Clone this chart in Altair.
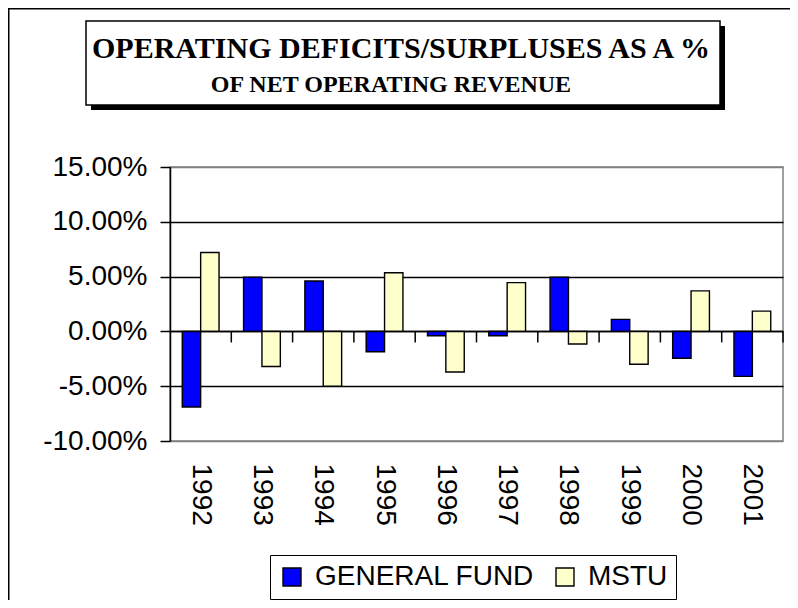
import altair as alt
import pandas as pd

years = ["1992", "1993", "1994", "1995", "1996", "1997", "1998", "1999", "2000", "2001"]
general_fund = [-0.069, 0.0495, 0.046, -0.0185, -0.004, -0.004, 0.0495, 0.011, -0.0245, -0.041]
mstu = [0.072, -0.032, -0.050, 0.0535, -0.037, 0.0445, -0.0115, -0.030, 0.037, 0.0185]
series = ["GENERAL FUND", "MSTU"]
colors = ["#0000FF", "#FFFFCC"]
y_ticks = [-0.10, -0.05, 0.0, 0.05, 0.10, 0.15]
title_line1 = "OPERATING DEFICITS/SURPLUSES AS A %"
title_line2 = "OF NET OPERATING REVENUE"

rows = []
for i, yr in enumerate(years):
    rows.append({"year": yr, "series": series[0], "value": general_fund[i]})
    rows.append({"year": yr, "series": series[1], "value": mstu[i]})
df = pd.DataFrame(rows)
one = alt.Data(values=[{"k": 1}])
yr_df = pd.DataFrame({"year": years})

W, H = 613, 274
SANS = "Liberation Sans"
SERIF = "Liberation Serif"

yscale = alt.Scale(domain=[-0.10, 0.15], nice=False, zero=False)

bars = alt.Chart(df).mark_bar(stroke="black", strokeWidth=1.4).encode(
    x=alt.X("year:N", sort=years,
            scale=alt.Scale(paddingInner=0.4, paddingOuter=0.2),
            axis=alt.Axis(title=None, labelAngle=90, labelFontSize=28, labelFont=SANS,
                          labelColor="black", domain=False, ticks=False, labelPadding=22,
                          grid=False)),
    xOffset=alt.XOffset("series:N", sort=series,
                        scale=alt.Scale(paddingInner=0, paddingOuter=0)),
    y=alt.Y("value:Q", scale=yscale,
            axis=alt.Axis(title=None, values=y_ticks,
                          labelExpr="replace(format(datum.value, '.2%'), '\u2212', '-')",
                          labelFontSize=28,
                          labelFont=SANS, labelColor="black", domainColor="black",
                          domainWidth=1.5, tickColor="black", tickWidth=1.5, tickSize=10,
                          labelPadding=13,
                          grid=True, gridWidth=1.5,
                          gridColor={"condition": {"test": "datum.value > 0.14 || datum.value < -0.09",
                                                   "value": "#808080"},
                                     "value": "black"})),
    color=alt.Color("series:N", sort=series,
                    scale=alt.Scale(domain=series, range=colors),
                    legend=alt.Legend(title=None, orient="none", legendX=100, legendY=388,
                                      direction="horizontal", strokeColor="black",
                                      fillColor="white", padding=8, symbolType="square",
                                      symbolSize=324, symbolStrokeColor="black",
                                      symbolStrokeWidth=1.4, labelFontSize=28,
                                      labelFont=SANS, labelColor="black", labelLimit=0,
                                      columnPadding=16, labelOffset=9)),
)

zero_line = alt.Chart(one).mark_rule(color="black", strokeWidth=1.5).encode(
    y=alt.datum(0, scale=yscale)
)

zero_ticks = alt.Chart(yr_df).mark_rule(color="black", strokeWidth=1.5, y2Offset=11).encode(
    x=alt.X("year:N", sort=years, bandPosition=1,
            scale=alt.Scale(paddingInner=0, paddingOuter=0), axis=None),
    y=alt.datum(0),
    y2=alt.datum(0),
)

shadow = alt.Chart(one).mark_rect(color="black").encode(
    x=alt.value(-79), x2=alt.value(555), y=alt.value(-141), y2=alt.value(-57)
)
tbox = alt.Chart(one).mark_rect(fill="white", stroke="black", strokeWidth=1.5).encode(
    x=alt.value(-84), x2=alt.value(550), y=alt.value(-146), y2=alt.value(-62)
)
t1 = alt.Chart(one).mark_text(font=SERIF, fontWeight="bold", fontSize=30, align="center",
                              baseline="alphabetic", color="black").encode(
    x=alt.value(231), y=alt.value(-109), text=alt.value(title_line1)
)
t2 = alt.Chart(one).mark_text(font=SERIF, fontWeight="bold", fontSize=24, align="center",
                              baseline="alphabetic", color="black").encode(
    x=alt.value(221), y=alt.value(-75), text=alt.value(title_line2)
)
border_top = alt.Chart(one).mark_rule(color="black", strokeWidth=1.5).encode(
    x=alt.value(-162), x2=alt.value(620), y=alt.value(-158.25)
)
border_left = alt.Chart(one).mark_rule(color="black", strokeWidth=1.5).encode(
    x=alt.value(-161.25), y=alt.value(-159), y2=alt.value(433)
)

chart = alt.layer(
    border_top, border_left, shadow, tbox, t1, t2, bars, zero_line, zero_ticks
).resolve_scale(x="independent").properties(
    width=W, height=H,
    autosize=alt.AutoSizeParams(type="none"),
    padding={"left": 162, "top": 159, "right": 7, "bottom": 159},
    background="white",
).configure_view(stroke="#808080", strokeWidth=1.5)

chart.save("out.html", embed_options={"renderer": "svg", "actions": False})
